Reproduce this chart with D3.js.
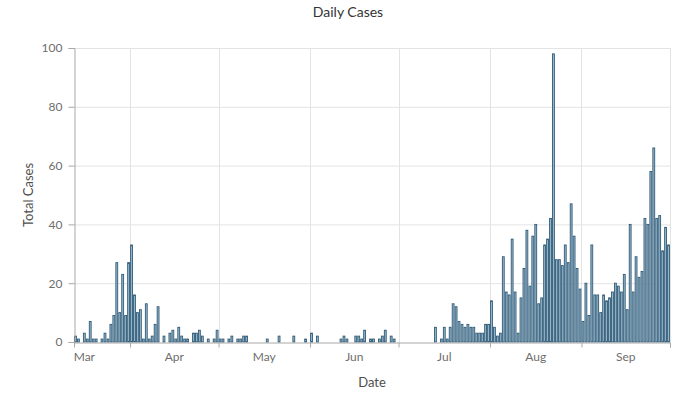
<!DOCTYPE html>
<html>
<head>
<meta charset="utf-8">
<script src="https://cdn.jsdelivr.net/npm/d3@7"></script>
<style>
  html, body { margin: 0; padding: 0; background: #fff; }
  svg { display: block; font-family: Lato, "Noto Sans", sans-serif; }
</style>
</head>
<body>
<svg id="chart" width="697" height="396"></svg>
<script>
// ---- data (daily counts, first day = 2020-03-13) ----
const startDate = "2020-03-13";
const endDate = "2020-10-01";
const marchValues = [2,1,0,3,1,7,1,1,0,1,3,1,6,9,27,10,23,9,27];
const aprilValues = [33,16,10,11,1,13,1,2,6,12,0,2,0,3,4,1,5,2,1,1,0,3,3,4,2,0,1,0,1,4];
const mayValues = [1,1,0,1,2,0,1,1,2,2,0,0,0,0,0,0,1,0,0,0,2,0,0,0,0,2,0,0,0,1,0];
const juneValues = [3,0,2,0,0,0,0,0,0,0,1,2,1,0,0,2,2,1,4,0,1,1,0,1,2,4,0,2,1,0];
const julyValues = [0,0,0,0,0,0,0,0,0,0,0,0,5,0,1,5,1,5,13,12,7,6,5,6,5,5,3,3,3,6,6];
const augustValues = [14,5,2,3,29,17,16,35,17,3,15,25,38,19,36,40,13,15,33,35,42,98,28,28,26,33,27,47,36,25,18];
const septemberValues = [7,20,9,33,16,16,10,16,14,15,17,20,19,17,23,11,40,17,29,22,24,42,40,58,66,42,43,31,39,33];
const monthLabels = ["Mar","Apr","May","Jun","Jul","Aug","Sep"];
const yTicks = [0,20,40,60,80,100];

const values = [].concat(marchValues, aprilValues, mayValues, juneValues, julyValues, augustValues, septemberValues);
const parse = d3.utcParse("%Y-%m-%d");
const start = parse(startDate);
const data = values.map((v, i) => ({ date: d3.utcDay.offset(start, i), value: v }));

// ---- layout ----
const W = 697, H = 396;
const m = { left: 74, right: 27, top: 48, bottom: 54 };
const svg = d3.select("#chart");

const x = d3.scaleUtc().domain([start, parse(endDate)]).range([m.left, W - m.right]);
const y = d3.scaleLinear().domain([0, 100]).range([H - m.bottom, m.top]);

// horizontal grid
svg.append("g").selectAll("line").data(yTicks.filter(t => t > 0)).join("line")
  .attr("x1", m.left).attr("x2", W - m.right)
  .attr("y1", d => y(d) + 0.5).attr("y2", d => y(d) + 0.5)
  .attr("stroke", "#e3e3e3").attr("stroke-width", 1);

// vertical grid at month boundaries
const monthStarts = d3.utcMonth.range(d3.utcMonth.ceil(start), d3.utcDay.offset(parse(endDate), 1));
svg.append("g").selectAll("line").data(monthStarts).join("line")
  .attr("x1", d => Math.round(x(d)) + 0.5).attr("x2", d => Math.round(x(d)) + 0.5)
  .attr("y1", m.top).attr("y2", H - m.bottom)
  .attr("stroke", "#e3e3e3").attr("stroke-width", 1);

// bars
const step = x(d3.utcDay.offset(start, 1)) - x(start);
svg.append("g").selectAll("rect").data(data.filter(d => d.value > 0)).join("rect")
  .attr("x", d => x(d.date) + 0.55)
  .attr("width", step - 1.1)
  .attr("y", d => y(d.value))
  .attr("height", d => y(0) - y(d.value))
  .attr("fill", "#9db9cc")
  .attr("stroke", "#2f5b78")
  .attr("stroke-width", 0.9);

// y axis
const yAxis = d3.axisLeft(y).tickValues(yTicks).tickSize(6).tickPadding(6);
const gy = svg.append("g").attr("transform", `translate(${m.left + 0.5},0)`).call(yAxis);
gy.select(".domain").attr("stroke", "#a8a8a8");
gy.selectAll(".tick line").attr("stroke", "#a8a8a8");
gy.selectAll(".tick text").attr("fill", "#6e6e6e").style("font-size", "12px")
  .style("font-family", "Lato, 'Noto Sans', sans-serif");

// x axis: ticks at month starts, labels centered in the month
const xAxis = d3.axisBottom(x).tickValues(monthStarts).tickSize(5).tickFormat("");
const gx = svg.append("g").attr("transform", `translate(0,${H - m.bottom + 0.5})`).call(xAxis);
gx.select(".domain").attr("stroke", "#a8a8a8");
gx.selectAll(".tick line").attr("stroke", "#a8a8a8");

const monthMids = monthLabels.map((lab, i) => {
  const s = d3.utcMonth.offset(d3.utcMonth.floor(start), i);
  const e = d3.utcMonth.offset(s, 1);
  return { label: lab, pos: (x(s) + x(e)) / 2 };
});
svg.append("g").selectAll("text").data(monthMids).join("text")
  .attr("x", d => d.pos).attr("y", H - m.bottom + 19)
  .attr("text-anchor", "middle")
  .attr("fill", "#6e6e6e").style("font-size", "12px")
  .text(d => d.label);

// titles
svg.append("text").attr("x", 348).attr("y", 17).attr("text-anchor", "middle")
  .attr("fill", "#333").style("font-size", "14px").text("Daily Cases");
svg.append("text").attr("x", 372).attr("y", 387).attr("text-anchor", "middle")
  .attr("fill", "#4e4e4e").style("font-size", "13px").text("Date");
svg.append("text").attr("transform", "translate(33,195) rotate(-90)").attr("text-anchor", "middle")
  .attr("fill", "#4e4e4e").style("font-size", "13px").text("Total Cases");
</script>
</body>
</html>
